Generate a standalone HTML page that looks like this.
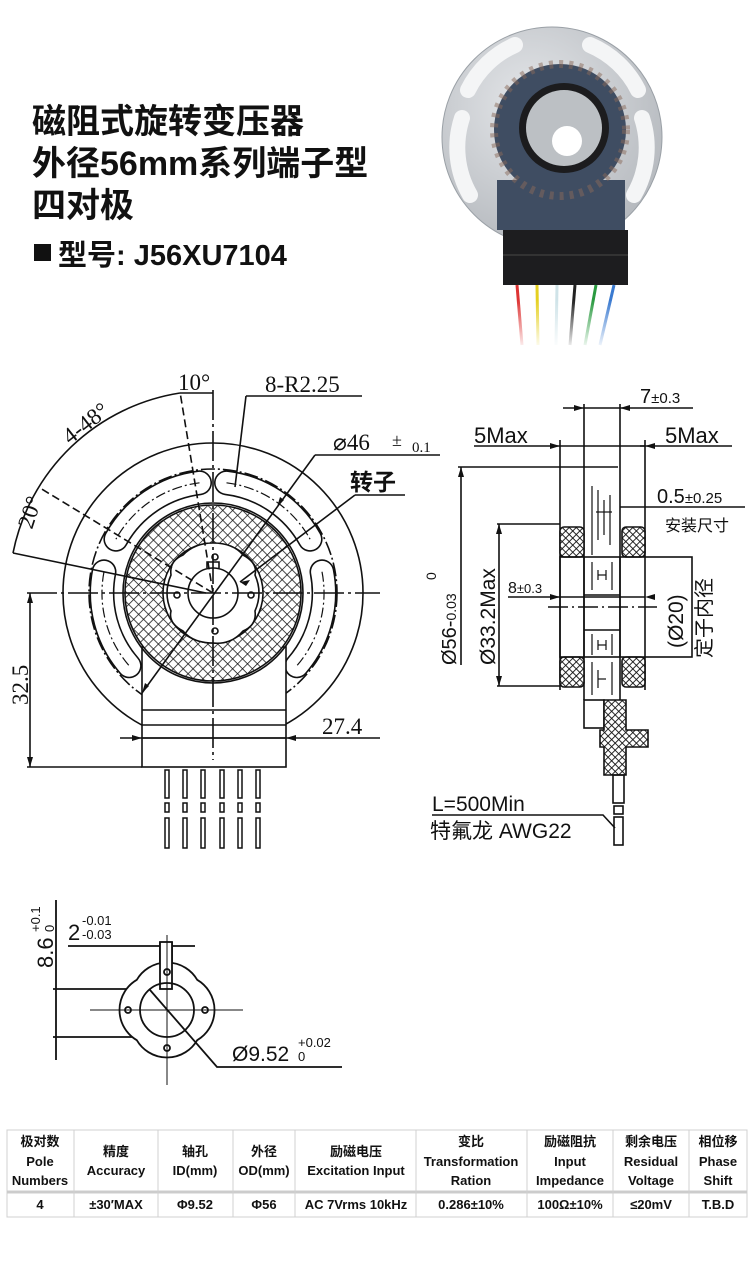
<!DOCTYPE html>
<html><head><meta charset="utf-8">
<style>
body{margin:0;background:#fff;}
svg{display:block;}
.t{font-family:"Liberation Serif","Noto Serif CJK SC",serif;fill:#111;}
.s{font-family:"Liberation Sans","Noto Sans CJK SC",sans-serif;fill:#111;}
</style></head><body>
<svg width="750" height="1281" viewBox="0 0 750 1281" xmlns="http://www.w3.org/2000/svg">
<defs>
<pattern id="hx" width="7" height="7" patternUnits="userSpaceOnUse" patternTransform="rotate(45)">
<rect width="7" height="7" fill="#fff"/>
<line x1="0" y1="0" x2="7" y2="0" stroke="#111" stroke-width="1.5"/>
<line x1="0" y1="0" x2="0" y2="7" stroke="#111" stroke-width="1.5"/>
</pattern>
<pattern id="hx2" width="5" height="5" patternUnits="userSpaceOnUse" patternTransform="rotate(45)">
<rect width="5" height="5" fill="#fff"/>
<line x1="0" y1="0" x2="5" y2="0" stroke="#111" stroke-width="1.8"/>
<line x1="0" y1="0" x2="0" y2="5" stroke="#111" stroke-width="1.8"/>
</pattern>
<radialGradient id="pl" cx="0.4" cy="0.35" r="0.7">
<stop offset="0" stop-color="#e4e6e9"/><stop offset="1" stop-color="#b4b8bd"/></radialGradient>
<linearGradient id="fade" x1="0" y1="0" x2="0" y2="1">
<stop offset="0" stop-color="#fff" stop-opacity="0"/><stop offset="1" stop-color="#fff" stop-opacity="1"/></linearGradient>
</defs>

<!-- Title -->
<g font-family="'Liberation Sans','Noto Sans CJK SC',sans-serif" font-weight="bold" fill="#111">
<text x="32" y="133" font-size="34">磁阻式旋转变压器</text>
<text x="32" y="175" font-size="34">外径56mm系列端子型</text>
<text x="32" y="217" font-size="34">四对极</text>
<rect x="34" y="244" width="17" height="17"/>
<text x="58" y="265" font-size="29">型号: J56XU7104</text>
</g>

<!-- Photo -->
<g>
<circle cx="552" cy="137" r="110" fill="url(#pl)" stroke="#9aa0a6" stroke-width="1"/>
<g fill="none" stroke="#f4f5f6" stroke-width="16" stroke-linecap="round">
<path d="M515,45 A95,95 0 0 0 468,90"/>
<path d="M590,45 A95,95 0 0 1 638,90"/>
<path d="M462,118 A95,95 0 0 0 470,195"/>
<path d="M642,118 A95,95 0 0 1 634,195"/>
</g>
<path d="M497,180 L497,230 L625,230 L625,180 Z" fill="#3f4d62"/>
<circle cx="560" cy="130" r="66" fill="#3f4d62"/>
<circle cx="560" cy="130" r="66" fill="none" stroke="#8a6a5a" stroke-width="8" stroke-dasharray="4 6" opacity="0.5"/>
<circle cx="564" cy="128" r="45" fill="#1c1c1e"/>
<circle cx="564" cy="128" r="38" fill="#bcc0c4"/>
<circle cx="567" cy="141" r="15" fill="#fff"/>
<rect x="503" y="230" width="125" height="55" fill="#1d1d1f"/>
<line x1="503" y1="255" x2="628" y2="255" stroke="#333" stroke-width="2"/>
<g stroke-width="3" fill="none">
<path d="M517,285 L522,345" stroke="#d33"/>
<path d="M537,285 L538,345" stroke="#e5d020"/>
<path d="M557,285 L556,345" stroke="#cfe3e8"/>
<path d="M575,285 L570,345" stroke="#222"/>
<path d="M596,285 L585,345" stroke="#2a9a40"/>
<path d="M614,285 L600,345" stroke="#3a7ad0"/>
</g>
<rect x="500" y="300" width="130" height="50" fill="url(#fade)"/>
</g>

<!-- Left drawing -->
<g stroke="#111" fill="none" stroke-width="1.6">
<circle cx="213" cy="593" r="150"/>
<circle cx="213" cy="593" r="124" stroke-dasharray="14 3 2 3"/>
<g stroke-width="25" stroke-linecap="round">
<path d="M199.5,482.8 A111,111 0 0 0 115.9,539.2"/>
<path d="M226.5,482.8 A111,111 0 0 1 310.1,539.2"/>
<path d="M104,571.8 A111,111 0 0 0 129.2,665.8"/>
<path d="M322,571.8 A111,111 0 0 1 296.8,665.8"/>
</g>
<g stroke="#fff" stroke-width="21.8" stroke-linecap="round">
<path d="M199.5,482.8 A111,111 0 0 0 115.9,539.2"/>
<path d="M226.5,482.8 A111,111 0 0 1 310.1,539.2"/>
<path d="M104,571.8 A111,111 0 0 0 129.2,665.8"/>
<path d="M322,571.8 A111,111 0 0 1 296.8,665.8"/>
</g>
<g stroke-width="1.2" stroke-dasharray="10 3 2 3">
<path d="M199.5,482.8 A111,111 0 0 0 115.9,539.2"/>
<path d="M226.5,482.8 A111,111 0 0 1 310.1,539.2"/>
<path d="M104,571.8 A111,111 0 0 0 129.2,665.8"/>
<path d="M322,571.8 A111,111 0 0 1 296.8,665.8"/>
</g>
<rect x="142" y="647" width="144" height="120" fill="#fff"/>
<line x1="142" y1="710" x2="286" y2="710"/>
<line x1="142" y1="725" x2="286" y2="725"/>
<line x1="142" y1="738" x2="286" y2="738"/>
<path d="M213,505 a88,88 0 1 0 0.01,0 Z M213,543 a50,50 0 1 1 -0.01,0 Z" fill="url(#hx)" fill-rule="evenodd"/>
<circle cx="213" cy="593" r="90"/>
<path d="M213,543 q20,0 30,12 q15,8 12,20 q8,18 0,36 q2,14 -12,20 q-12,14 -30,12 q-20,0 -30,-12 q-15,-8 -12,-20 q-8,-18 0,-36 q-2,-14 12,-20 q12,-12 30,-12Z" fill="#fff"/>
<circle cx="213" cy="593" r="25"/>
<path d="M207,568 v-6 h12 v6" />
<circle cx="215" cy="557" r="3"/><circle cx="177" cy="595" r="3"/><circle cx="251" cy="595" r="3"/><circle cx="215" cy="631" r="3"/>
<g stroke-width="1.5">
<rect x="165" y="770" width="4" height="28"/><rect x="183" y="770" width="4" height="28"/><rect x="201" y="770" width="4" height="28"/><rect x="220" y="770" width="4" height="28"/><rect x="238" y="770" width="4" height="28"/><rect x="256" y="770" width="4" height="28"/>
<rect x="165" y="803" width="4" height="9"/><rect x="183" y="803" width="4" height="9"/><rect x="201" y="803" width="4" height="9"/><rect x="220" y="803" width="4" height="9"/><rect x="238" y="803" width="4" height="9"/><rect x="256" y="803" width="4" height="9"/>
<rect x="165" y="818" width="4" height="30"/><rect x="183" y="818" width="4" height="30"/><rect x="201" y="818" width="4" height="30"/><rect x="220" y="818" width="4" height="30"/><rect x="238" y="818" width="4" height="30"/><rect x="256" y="818" width="4" height="30"/>
</g>
<line x1="213" y1="390" x2="213" y2="760" stroke-dasharray="30 4 3 4"/>
<line x1="27" y1="593" x2="380" y2="593" stroke-dasharray="30 4 3 4"/>
<line x1="30" y1="593" x2="30" y2="767"/>
<line x1="27" y1="767" x2="142" y2="767"/>
<line x1="120" y1="738" x2="380" y2="738"/>
<path d="M213,593 L180,392" stroke-dasharray="8 4"/>
<path d="M213,593 L40,488" stroke-dasharray="8 4"/>
<path d="M206,593 L13,553"/>
<path d="M13,553 A202,202 0 0 1 180,393"/>
<line x1="180" y1="393" x2="213" y2="393"/>
<polyline points="246,396 362,396"/>
<line x1="246" y1="396" x2="235" y2="487"/>
<polyline points="315,455 440,455"/>
<line x1="315" y1="455" x2="142" y2="693"/>
<polyline points="355,495 405,495"/>
<line x1="355" y1="495" x2="240" y2="582"/>
</g>
<g fill="#111">
<path d="M30,593 l-3,10 h6z"/><path d="M30,767 l-3,-10 h6z"/>
<path d="M142,738 l-10,-3 v6z"/><path d="M286,738 l10,-3 v6z"/>
<path d="M240,582 l10,-2 l-4,6z"/><path d="M142,693 l3,-10 l4,3z"/><path d="M277,507 l3,-10 l4,3z" />
</g>
<g class="t" font-size="23">
<text x="178" y="390">10°</text>
<text x="265" y="392">8-R2.25</text>
<text x="333" y="450">⌀46</text>
<text x="392" y="446" font-size="18">±</text>
<text x="412" y="452" font-size="15">0.1</text>
<text x="350" y="490" font-family="'Noto Sans CJK SC',sans-serif" font-weight="bold" font-size="23">转子</text>
<text x="322" y="734">27.4</text>
<text transform="translate(28,705) rotate(-90)">32.5</text>
<text transform="translate(70,445) rotate(-38)">4-48°</text>
<text transform="translate(32,530) rotate(-72)">20°</text>
</g>

<!-- Right drawing -->
<g stroke="#111" fill="none" stroke-width="1.6">
<line x1="563" y1="408" x2="693" y2="408"/>
<line x1="584" y1="404" x2="584" y2="700"/>
<line x1="620" y1="404" x2="620" y2="700"/>
<line x1="474" y1="446" x2="560" y2="446"/>
<line x1="560" y1="446" x2="645" y2="446"/>
<line x1="640" y1="446" x2="732" y2="446"/>
<line x1="560" y1="440" x2="560" y2="690"/>
<line x1="645" y1="440" x2="645" y2="690"/>
<line x1="458" y1="467" x2="618" y2="467"/>
<line x1="461" y1="467" x2="461" y2="665"/>
<line x1="497" y1="524" x2="560" y2="524"/>
<line x1="497" y1="686" x2="560" y2="686"/>
<line x1="499" y1="524" x2="499" y2="686"/>
<rect x="560" y="527" width="24" height="30" rx="4" fill="url(#hx2)"/>
<rect x="622" y="527" width="23" height="30" rx="4" fill="url(#hx2)"/>
<rect x="560" y="657" width="24" height="30" rx="4" fill="url(#hx2)"/>
<rect x="622" y="657" width="23" height="30" rx="4" fill="url(#hx2)"/>
<rect x="560" y="557" width="132" height="100"/>
<line x1="584" y1="557" x2="584" y2="657"/>
<line x1="620" y1="557" x2="620" y2="657"/>
<line x1="584" y1="595" x2="620" y2="595"/>
<line x1="584" y1="630" x2="620" y2="630"/>
<line x1="508" y1="597" x2="645" y2="597"/>
<line x1="548" y1="607" x2="657" y2="607" stroke-dasharray="20 4 2 4"/>
<g stroke-width="1.2">
<line x1="592" y1="562" x2="592" y2="590"/><line x1="612" y1="562" x2="612" y2="590"/>
<line x1="598" y1="570" x2="598" y2="580"/><line x1="606" y1="570" x2="606" y2="580"/><line x1="598" y1="575" x2="606" y2="575"/>
<line x1="592" y1="634" x2="592" y2="655"/><line x1="612" y1="634" x2="612" y2="655"/>
<line x1="598" y1="640" x2="598" y2="650"/><line x1="606" y1="640" x2="606" y2="650"/><line x1="598" y1="645" x2="606" y2="645"/>
<line x1="592" y1="662" x2="592" y2="695"/><line x1="612" y1="662" x2="612" y2="695"/>
<line x1="598" y1="670" x2="598" y2="688"/><line x1="598" y1="679" x2="606" y2="679"/>
<line x1="592" y1="486" x2="592" y2="555"/><line x1="598" y1="490" x2="598" y2="540"/>
<line x1="604" y1="500" x2="604" y2="535"/><line x1="610" y1="495" x2="610" y2="545"/>
<line x1="596" y1="512" x2="612" y2="512"/>
</g>
<line x1="620" y1="507" x2="745" y2="507"/>
<rect x="584" y="700" width="20" height="28"/>
<path d="M604,700 h22 v30 h22 v17 h-22 v28 h-22 v-28 h-4 v-17 h4 z" fill="url(#hx2)"/>
<rect x="613" y="775" width="11" height="28"/>
<rect x="614" y="806" width="9" height="8"/>
<rect x="614" y="817" width="9" height="28"/>
<polyline points="432,815 603,815 615,828"/>
</g>
<g fill="#111">
<path d="M584,408 l-10,-3 v6z"/><path d="M620,408 l10,-3 v6z"/>
<path d="M560,446 l-10,-3 v6z"/><path d="M645,446 l10,-3 v6z"/>
<path d="M461,467 l-3,10 h6z"/><path d="M499,524 l-3,10 h6z"/><path d="M499,686 l-3,-10 h6z"/>
<path d="M560,597 l-10,-3 v6z"/><path d="M645,597 l10,-3 v6z"/>
</g>
<g class="s">
<text x="640" y="403" font-size="20">7<tspan font-size="15">±0.3</tspan></text>
<text x="474" y="443" font-size="22">5Max</text>
<text x="665" y="443" font-size="22">5Max</text>
<text x="657" y="503" font-size="20">0.5<tspan font-size="15">±0.25</tspan></text>
<text x="665" y="531" font-size="16">安装尺寸</text>
<text x="508" y="593" font-size="16">8<tspan font-size="13">±0.3</tspan></text>
<text transform="translate(456,665) rotate(-90)" font-size="20">Ø56-<tspan font-size="14">0.03</tspan></text>
<text transform="translate(436,580) rotate(-90)" font-size="14">0</text>
<text transform="translate(495,665) rotate(-90)" font-size="21">Ø33.2Max</text>
<text transform="translate(683,648) rotate(-90)" font-size="21">(Ø20)</text>
<text transform="translate(711,658) rotate(-90)" font-size="20">定子内径</text>
<text x="432" y="811" font-size="21">L=500Min</text>
<text x="430" y="838" font-size="21">特氟龙 AWG22</text>
</g>

<!-- Bottom-left detail -->
<g stroke="#111" fill="none" stroke-width="1.8">
<line x1="56" y1="900" x2="56" y2="1060"/>
<line x1="53" y1="989" x2="170" y2="989"/>
<line x1="53" y1="1037" x2="165" y2="1037"/>
<line x1="68" y1="946" x2="195" y2="946"/>
<line x1="160" y1="942" x2="160" y2="989"/>
<line x1="172" y1="942" x2="172" y2="989"/>
<path d="M136.8,979.8 A35,35 0 0 1 197.2,979.8 A35,35 0 0 1 197.2,1040.2 A35,35 0 0 1 136.8,1040.2 A35,35 0 0 1 136.8,979.8 Z" fill="#fff"/>
<rect x="160" y="942" width="12" height="47" fill="#fff"/>
<circle cx="167" cy="1010" r="27"/>
<circle cx="128" cy="1010" r="3"/><circle cx="205" cy="1010" r="3"/><circle cx="167" cy="972" r="3"/><circle cx="167" cy="1048" r="3"/>
<line x1="167" y1="935" x2="167" y2="1085" stroke-width="1"/>
<line x1="90" y1="1010" x2="243" y2="1010" stroke-width="1"/>
<polyline points="150,990 217,1067 342,1067"/>
</g>
<g class="s">
<text transform="translate(53,968) rotate(-90)" font-size="22">8.6</text>
<text transform="translate(40,932) rotate(-90)" font-size="13">+0.1</text>
<text transform="translate(54,932) rotate(-90)" font-size="13">0</text>
<text x="68" y="940" font-size="22">2</text>
<text x="82" y="925" font-size="13">-0.01</text>
<text x="82" y="939" font-size="13">-0.03</text>
<text x="232" y="1061" font-size="21">Ø9.52</text>
<text x="298" y="1047" font-size="13">+0.02</text>
<text x="298" y="1061" font-size="13">0</text>
</g>

<!-- Table -->
<g stroke="#d0d0d0" stroke-width="1" fill="none">
<rect x="7" y="1130" width="740" height="87"/>
<line x1="7" y1="1192" x2="747" y2="1192" stroke="#ccc" stroke-width="3"/>
<line x1="74" y1="1130" x2="74" y2="1217"/><line x1="158" y1="1130" x2="158" y2="1217"/>
<line x1="233" y1="1130" x2="233" y2="1217"/><line x1="295" y1="1130" x2="295" y2="1217"/>
<line x1="416" y1="1130" x2="416" y2="1217"/><line x1="527" y1="1130" x2="527" y2="1217"/>
<line x1="613" y1="1130" x2="613" y2="1217"/><line x1="689" y1="1130" x2="689" y2="1217"/>
</g>
<g class="s" font-size="13" font-weight="bold" text-anchor="middle">
<text x="40" y="1146">极对数</text><text x="40" y="1166">Pole</text><text x="40" y="1185">Numbers</text>
<text x="116" y="1156">精度</text><text x="116" y="1175">Accuracy</text>
<text x="195" y="1156">轴孔</text><text x="195" y="1175">ID(mm)</text>
<text x="264" y="1156">外径</text><text x="264" y="1175">OD(mm)</text>
<text x="356" y="1156">励磁电压</text><text x="356" y="1175">Excitation Input</text>
<text x="471" y="1146">变比</text><text x="471" y="1166">Transformation</text><text x="471" y="1185">Ration</text>
<text x="570" y="1146">励磁阻抗</text><text x="570" y="1166">Input</text><text x="570" y="1185">Impedance</text>
<text x="651" y="1146">剩余电压</text><text x="651" y="1166">Residual</text><text x="651" y="1185">Voltage</text>
<text x="718" y="1146">相位移</text><text x="718" y="1166">Phase</text><text x="718" y="1185">Shift</text>
<text x="40" y="1209">4</text><text x="116" y="1209">±30′MAX</text><text x="195" y="1209">Φ9.52</text>
<text x="264" y="1209">Φ56</text><text x="356" y="1209">AC 7Vrms 10kHz</text><text x="471" y="1209">0.286±10%</text>
<text x="570" y="1209">100Ω±10%</text><text x="651" y="1209">≤20mV</text><text x="718" y="1209">T.B.D</text>
</g>
</svg>
</body></html>
